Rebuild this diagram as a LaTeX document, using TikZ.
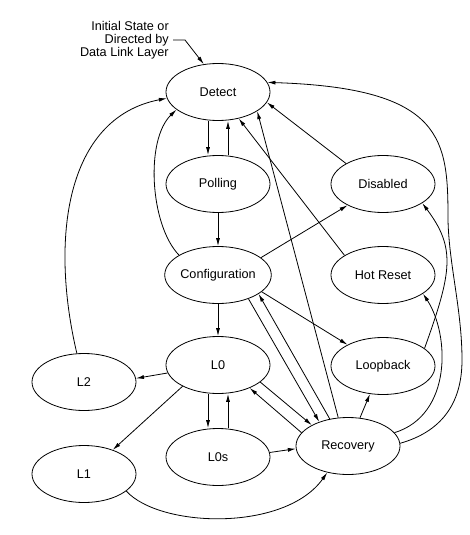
\documentclass[tikz,border=0pt]{standalone}
\usepackage{fontspec}
\setmainfont{Liberation Sans}
\usetikzlibrary{shapes.geometric,arrows.meta,calc}
\begin{document}
\begin{tikzpicture}[x=0.75pt,y=-0.75pt,
  state/.style={ellipse,draw,line width=0.6pt,minimum width=78pt,minimum height=42.75pt,inner sep=0pt,font=\fontsize{9.5}{11}\selectfont},
  conn/.style={line width=0.6pt,-{Latex[length=6pt,width=3pt]}},
  lbl/.style={font=\fontsize{9.5}{9.6}\selectfont,align=right,inner sep=0pt}]
\useasboundingbox (0,0) rectangle (470,535);
% states
\node[state] (detect)   at (218,92)  {Detect};
\node[state] (polling)  at (218,184) {Polling};
\node[state] (disabled) at (383,184) {Disabled};
\node[state] (config)   at (218,275) {Configuration};
\node[state] (hotreset) at (383,275) {Hot Reset};
\node[state] (lzero)    at (218,365) {L0};
\node[state] (ltwo)     at (84,382)  {L2};
\node[state] (loopback) at (383,366) {Loopback};
\node[state] (lzeros)   at (218,457) {L0s};
\node[state] (recovery) at (348,446) {Recovery};
\node[state] (lone)     at (84,474)  {L1};
% initial label
\node[lbl,anchor=east] (init) at (169,40) {Initial State or\\Directed by\\Data Link Layer};
\draw[conn] ([xshift=3pt]init.east) -- ++(12,0) -- (detect.117);
% detect <-> polling
\draw[conn] ([xshift=-7.5pt]detect.south) -- ([xshift=-7.5pt]polling.north);
\draw[conn] ([xshift=7.5pt]polling.north) -- ([xshift=7.5pt]detect.south);
% polling -> configuration
\draw[conn] (polling.south) -- (config.north);
% configuration -> detect
\draw[conn] (config.153) .. controls (150,225) and (145,140) .. (detect.203);
% L2 -> detect
\draw[conn] (ltwo.104.5) .. controls (50,240) and (65,118) .. (detect.187);
% hot reset, disabled, recovery -> detect
\draw[conn] (hotreset.153) -- (detect.308);
\draw[conn] (disabled.151) -- (detect.348);
\draw[conn] (recovery.109) -- (detect.334);
% configuration -> disabled
\draw[conn] (config.22) -- (disabled.211);
% configuration -> L0
\draw[conn] (config.south) -- (lzero.north);
% configuration <-> recovery
\draw[conn] (config.322) -- (recovery.140);
\draw[conn] (recovery.124) -- (config.335);
% configuration -> loopback
\draw[conn] (config.339) -- (loopback.149);
% L0 -> L2, L1
\draw[conn] (lzero.189) -- (ltwo.4);
\draw[conn] (lzero.211) -- (lone.40);
% L0 <-> L0s
\draw[conn] ([xshift=-7.5pt]lzero.south) -- ([xshift=-7.5pt]lzeros.north);
\draw[conn] ([xshift=7.5pt]lzeros.north) -- ([xshift=7.5pt]lzero.south);
% L0 <-> recovery
\draw[conn] (lzero.338) -- (recovery.150);
\draw[conn] (recovery.164) -- (lzero.324);
% L0s -> recovery
\draw[conn] (lzeros.5) -- (recovery.183);
% recovery -> loopback
\draw[conn] (recovery.67) -- (loopback.245);
% L1 -> recovery
\draw[conn] (lone.338) .. controls (160,528) and (285,532) .. (recovery.232);
% recovery -> hot reset
\draw[conn] (recovery.16) .. controls (452,415) and (450,335) .. (hotreset.335);
% loopback -> disabled
\draw[conn] (loopback.23) .. controls (452,272) and (456,248) .. (disabled.334);
% recovery -> detect (outer)
\coordinate (oa) at (462,360);
\coordinate (ob) at (448,220);
\draw[conn] (recovery.3) .. controls (440,432) and (462,405) .. (oa)
  .. controls (462,310) and (449,265) .. (ob)
  .. controls (448,140) and (445,88) .. (detect.11);
\end{tikzpicture}
\end{document}
